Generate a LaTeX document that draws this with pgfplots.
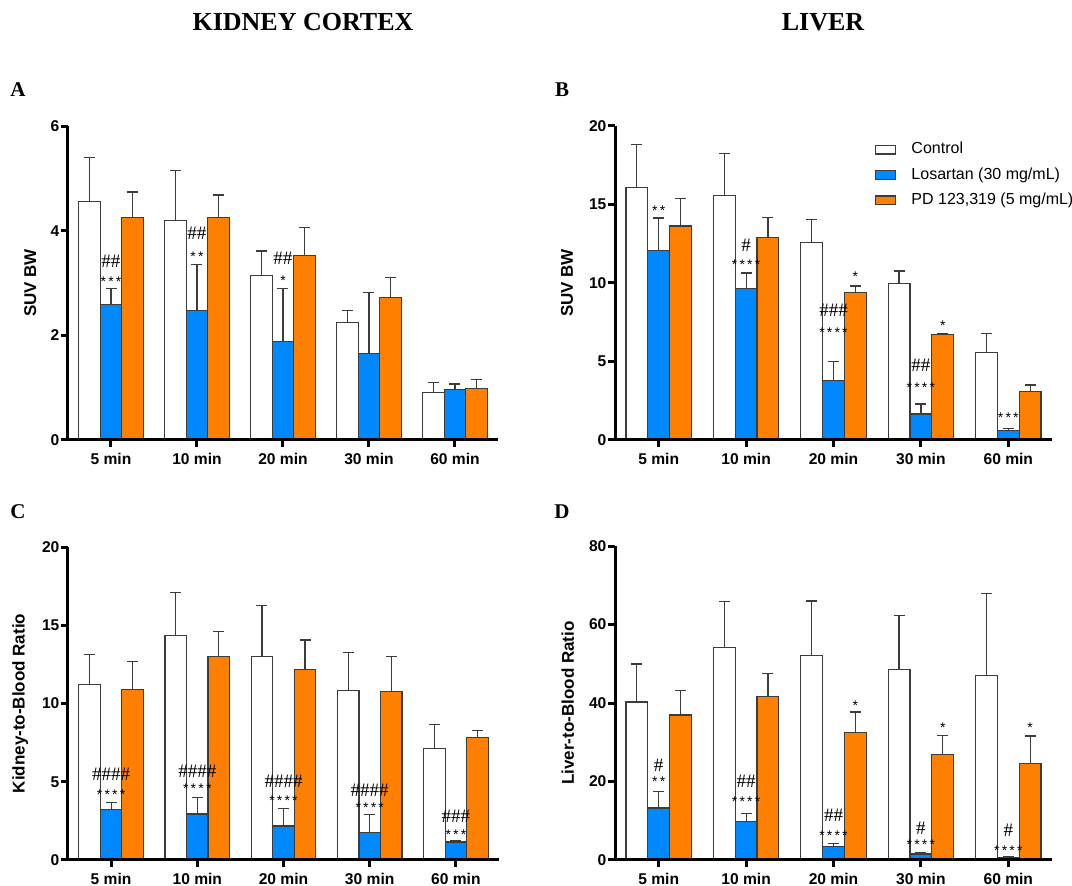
\documentclass[border=0pt]{standalone}
\usepackage{fontspec}
\setmainfont{Liberation Serif}
\setsansfont{Liberation Sans}
\usepackage{pgfplots}
\pgfplotsset{compat=1.18}
\definecolor{barblue}{RGB}{0,136,255}
\definecolor{barorange}{RGB}{255,128,0}
\definecolor{edge}{RGB}{60,60,60}
\newcommand{\tickfont}{\sffamily\bfseries\fontsize{7.8}{9}\selectfont}
\newcommand{\hashfont}{\rmfamily\fontsize{9.5}{10}\selectfont}
\newcommand{\starfont}{\sffamily\fontsize{7}{8}\selectfont}
\newcommand{\sA}{*}
\newcommand{\sB}{*\kern1.1pt*}
\newcommand{\sC}{*\kern1.1pt*\kern1.1pt*}
\newcommand{\sD}{*\kern1.1pt*\kern1.1pt*\kern1.1pt*}
\pgfplotsset{
  panel/.style={
    scale only axis,
    axis on top,
    axis lines=left,
    axis line style={line width=1.5pt,-,black},
    xmin=-0.5, xmax=4.5, ymin=0,
    xtick={0,1,2,3,4},
    xticklabels={5 min,10 min,20 min,30 min,60 min},
    tick align=outside,
    major tick length=3.5pt,
    tick style={line width=1.5pt,black},
    ticklabel style={font=\tickfont},
    yticklabel style={inner xsep=0.6pt},
    xticklabel style={yshift=0.3pt},
    /pgf/number format/assume math mode=true,
    ybar, bar width=0.25,
    clip=false,
    every axis y label/.style={rotate=90,anchor=center,font=\sffamily\bfseries\fontsize{8.5}{10}\selectfont},
    every axis plot/.append style={draw=edge,line width=0.6pt,
      error bars/y dir=plus, error bars/y explicit,
      error bars/error bar style={line width=0.6pt,draw=edge},
      error bars/error mark options={rotate=90,line width=0.6pt,draw=edge,mark size=2.75pt}},
    every axis plot post/.append style={legend image code/.code={\draw[##1] (0pt,-2.2pt) rectangle (10pt,2.2pt); \path (15.5pt,0pt);}},
  },
  ctrl/.style={fill=white,bar shift=-0.25},
  losa/.style={fill=barblue,bar shift=0},
  pd/.style={fill=barorange,bar shift=0.25},
}
\begin{document}
\begin{tikzpicture}
\useasboundingbox (0,0) rectangle (536pt,-443pt);
\node[font=\rmfamily\bfseries\fontsize{13}{15}\selectfont] at (151.5pt,-11pt) {KIDNEY CORTEX};
\node[font=\rmfamily\bfseries\fontsize{13}{15}\selectfont] at (411.5pt,-11pt) {LIVER};
\node[font=\rmfamily\bfseries\fontsize{10.5}{12}\selectfont] at (9pt,-45pt) {A};
\node[font=\rmfamily\bfseries\fontsize{10.5}{12}\selectfont] at (281pt,-45pt) {B};
\node[font=\rmfamily\bfseries\fontsize{10.5}{12}\selectfont] at (9pt,-256pt) {C};
\node[font=\rmfamily\bfseries\fontsize{10.5}{12}\selectfont] at (281pt,-256pt) {D};

% Panel A
\begin{axis}[panel, at={(34pt,-220pt)}, anchor=south west, width=215pt, height=157pt,
  ymax=6, ytick={0,2,4,6}, ylabel={SUV BW},
  every axis y label/.append style={at={(axis description cs:-0.088,0.5)}}]
\addplot[ctrl] coordinates {(0,4.55) +- (0,0.85) (1,4.19) +- (0,0.96) (2,3.14) +- (0,0.47) (3,2.24) +- (0,0.24) (4,0.90) +- (0,0.20)};
\addplot[losa] coordinates {(0,2.59) +- (0,0.30) (1,2.48) +- (0,0.88) (2,1.88) +- (0,1.02) (3,1.66) +- (0,1.16) (4,0.97) +- (0,0.10)};
\addplot[pd] coordinates {(0,4.25) +- (0,0.49) (1,4.25) +- (0,0.43) (2,3.53) +- (0,0.53) (3,2.72) +- (0,0.39) (4,0.99) +- (0,0.16)};
\node[font=\hashfont] at (axis cs:0,3.41) {\#\#};
\node[font=\starfont] at (axis cs:0,3.03) {\sC};
\node[font=\hashfont] at (axis cs:1,3.95) {\#\#};
\node[font=\starfont] at (axis cs:1,3.51) {\sB};
\node[font=\hashfont] at (axis cs:2,3.47) {\#\#};
\node[font=\starfont] at (axis cs:2,3.04) {\sA};
\end{axis}

% Panel B
\begin{axis}[panel, at={(307.5pt,-220pt)}, anchor=south west, width=218.5pt, height=157pt,
  ymax=20, ytick={0,5,10,15,20}, ylabel={SUV BW},
  every axis y label/.append style={at={(axis description cs:-0.11,0.5)}},
  legend style={at={(rel axis cs:0.581,0.975)}, anchor=north west, draw=none, fill=none,
    font=\sffamily\fontsize{8}{9}\selectfont, row sep=1.4pt},
  legend cell align=left]
\addplot[ctrl] coordinates {(0,16.09) +- (0,2.74) (1,15.56) +- (0,2.68) (2,12.57) +- (0,1.46) (3,9.96) +- (0,0.80) (4,5.56) +- (0,1.23)};
\addlegendentry{Control}
\addplot[losa] coordinates {(0,12.06) +- (0,2.08) (1,9.64) +- (0,1.00) (2,3.80) +- (0,1.21) (3,1.66) +- (0,0.63) (4,0.59) +- (0,0.13)};
\addlegendentry{Losartan (30 mg/mL)}
\addplot[pd] coordinates {(0,13.63) +- (0,1.74) (1,12.89) +- (0,1.27) (2,9.38) +- (0,0.43) (3,6.71) +- (0,0.06) (4,3.08) +- (0,0.42)};
\addlegendentry{PD 123,319 (5 mg/mL)}
\node[font=\starfont] at (axis cs:0,14.6) {\sB};
\node[font=\hashfont] at (axis cs:1,12.42) {\#};
\node[font=\starfont] at (axis cs:1,11.15) {\sD};
\node[font=\hashfont] at (axis cs:2,8.28) {\#\#\#};
\node[font=\starfont] at (axis cs:2,6.85) {\sD};
\node[font=\starfont] at (axis cs:2.25,10.4) {\sA};
\node[font=\hashfont] at (axis cs:3,4.78) {\#\#};
\node[font=\starfont] at (axis cs:3,3.35) {\sD};
\node[font=\starfont] at (axis cs:3.25,7.25) {\sA};
\node[font=\starfont] at (axis cs:4,1.45) {\sC};
\end{axis}

% Panel C
\begin{axis}[panel, at={(34pt,-430pt)}, anchor=south west, width=215.5pt, height=156.5pt,
  ymax=20, ytick={0,5,10,15,20}, ylabel={Kidney-to-Blood Ratio},
  every axis y label/.append style={at={(axis description cs:-0.111,0.5)}}]
\addplot[ctrl] coordinates {(0,11.23) +- (0,1.92) (1,14.36) +- (0,2.75) (2,13.02) +- (0,3.24) (3,10.81) +- (0,2.47) (4,7.15) +- (0,1.53)};
\addplot[losa] coordinates {(0,3.23) +- (0,0.43) (1,2.94) +- (0,1.06) (2,2.17) +- (0,1.11) (3,1.77) +- (0,1.12) (4,1.15) +- (0,0.08)};
\addplot[pd] coordinates {(0,10.91) +- (0,1.75) (1,13.02) +- (0,1.60) (2,12.19) +- (0,1.87) (3,10.77) +- (0,2.23) (4,7.81) +- (0,0.45)};
\node[font=\hashfont] at (axis cs:0,5.49) {\#\#\#\#};
\node[font=\starfont] at (axis cs:0,4.15) {\sD};
\node[font=\hashfont] at (axis cs:1,5.70) {\#\#\#\#};
\node[font=\starfont] at (axis cs:1,4.53) {\sD};
\node[font=\hashfont] at (axis cs:2,5.04) {\#\#\#\#};
\node[font=\starfont] at (axis cs:2,3.77) {\sD};
\node[font=\hashfont] at (axis cs:3,4.43) {\#\#\#\#};
\node[font=\starfont] at (axis cs:3,3.34) {\sD};
\node[font=\hashfont] at (axis cs:4,2.81) {\#\#\#};
\node[font=\starfont] at (axis cs:4,1.6) {\sC};
\end{axis}

% Panel D
\begin{axis}[panel, at={(307.5pt,-430pt)}, anchor=south west, width=218.5pt, height=157pt,
  ymax=80, ytick={0,20,40,60,80}, ylabel={Liver-to-Blood Ratio},
  every axis y label/.append style={at={(axis description cs:-0.108,0.5)}}]
\addplot[ctrl] coordinates {(0,40.25) +- (0,9.7) (1,54.1) +- (0,11.7) (2,52.2) +- (0,13.8) (3,48.5) +- (0,13.75) (4,47.0) +- (0,20.9)};
\addplot[losa] coordinates {(0,13.25) +- (0,4.15) (1,9.77) +- (0,2.13) (2,3.48) +- (0,0.77) (3,1.53) +- (0,0.34) (4,0.68) +- (0,0.17)};
\addplot[pd] coordinates {(0,36.94) +- (0,6.16) (1,41.6) +- (0,5.9) (2,32.4) +- (0,5.3) (3,26.8) +- (0,5.0) (4,24.6) +- (0,7.0)};
\node[font=\hashfont] at (axis cs:0,24.2) {\#};
\node[font=\starfont] at (axis cs:0,19.9) {\sB};
\node[font=\hashfont] at (axis cs:1,20.0) {\#\#};
\node[font=\starfont] at (axis cs:1,14.8) {\sD};
\node[font=\hashfont] at (axis cs:2,11.3) {\#\#};
\node[font=\starfont] at (axis cs:2,6.1) {\sD};
\node[font=\hashfont] at (axis cs:3,8.07) {\#};
\node[font=\starfont] at (axis cs:3,3.8) {\sD};
\node[font=\hashfont] at (axis cs:4,7.64) {\#};
\node[font=\starfont] at (axis cs:4,2.45) {\sD};
\node[font=\starfont] at (axis cs:2.25,39.4) {\sA};
\node[font=\starfont] at (axis cs:3.25,33.8) {\sA};
\node[font=\starfont] at (axis cs:4.25,33.7) {\sA};
\end{axis}
\end{tikzpicture}
\end{document}
